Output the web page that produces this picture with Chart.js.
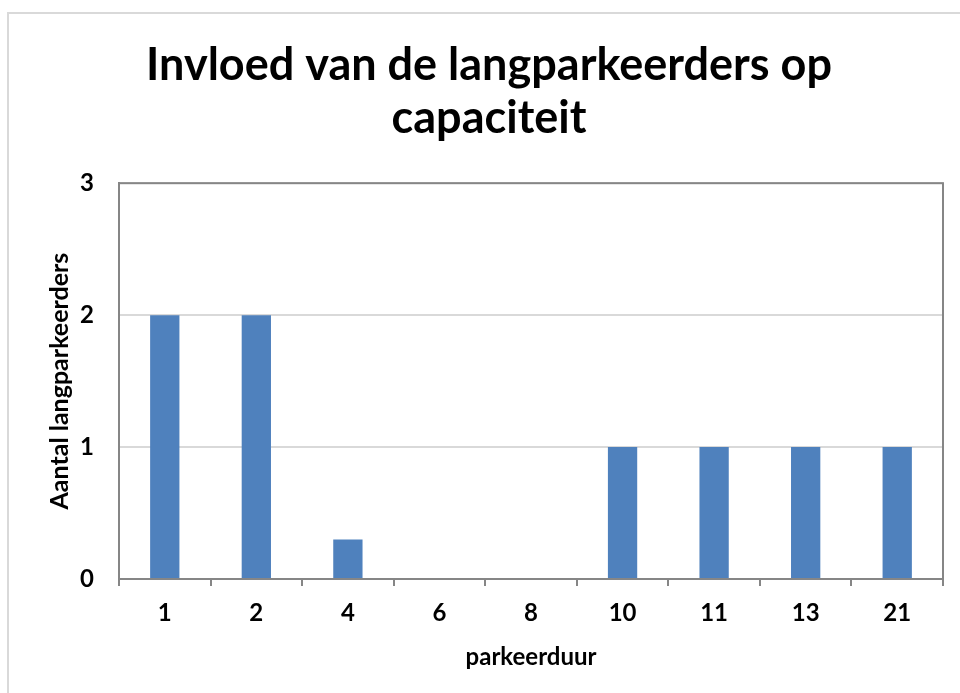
<!DOCTYPE html>
<html>
<head>
<meta charset="utf-8">
<script src="https://cdn.jsdelivr.net/npm/chart.js@4"></script>
<style>
	html, body { margin: 0; padding: 0; background: #fff; overflow: hidden; }
	#frame { position: absolute; left: 7px; top: 12px; width: 1000px; height: 800px; border: 2px solid #d9d9d9; }
	#wrap { position: absolute; left: 0; top: 0; width: 960px; height: 693px; }
</style>
</head>
<body>
<div id="frame"></div>
<div id="wrap"><canvas id="duur-chart" width="960" height="693"></canvas></div>
<script>
// parkeerduur (uren) en aantal langparkeerders
const categories = ['1', '2', '4', '6', '8', '10', '11', '13', '21'];
const aantallen = [2, 2, 0.3, 0, 0, 1, 1, 1, 1];
const yTicks = [0, 1, 2, 3];

const FONT = 'Lato, "Open Sans", sans-serif';

// grey border around the plot area (top and right sides included)
const plotBorder = {
	id: 'plotBorder',
	afterDatasetsDraw(chart) {
		const a = chart.chartArea;
		const c = chart.ctx;
		c.save();
		c.strokeStyle = '#868686';
		c.lineWidth = 2;
		c.strokeRect(a.left, a.top, a.right - a.left, a.bottom - a.top);
		c.restore();
	}
};

document.addEventListener('DOMContentLoaded', function () {
	const ctx = document.getElementById('duur-chart');
	new Chart(ctx, {
		type: 'bar',
		data: {
			labels: categories,
			datasets: [{
				data: aantallen,
				backgroundColor: '#4f81bd',
				categoryPercentage: 1,
				barPercentage: 0.32
			}]
		},
		options: {
			responsive: false,
			animation: false,
			layout: { padding: { left: 35, right: 17, top: 0, bottom: 0 } },
			plugins: {
				legend: { display: false },
				tooltip: { enabled: false },
				title: {
					display: true,
					text: ['Invloed van de langparkeerders op', 'capaciteit'],
					color: '#000',
					font: { family: FONT, size: 45, weight: 'bold', lineHeight: 1.18 },
					padding: { top: 39, bottom: 38 }
				}
			},
			scales: {
				x: {
					grid: { offset: true, drawOnChartArea: false, drawTicks: true, tickLength: 7, color: '#868686', lineWidth: 2 },
					border: { color: '#868686', width: 2 },
					ticks: { color: '#000', padding: 13, maxRotation: 0, font: { family: FONT, size: 24, weight: 'bold' } },
					title: {
						display: true,
						text: 'parkeerduur',
						color: '#000',
						font: { family: FONT, size: 24, weight: 'bold' },
						padding: { top: 10, bottom: 21 }
					},
					afterFit: function (s) { s.height = 114; }
				},
				y: {
					min: 0,
					max: 3,
					afterBuildTicks: function (s) { s.ticks = yTicks.map(v => ({ value: v })); },
					grid: { color: '#d9d9d9', lineWidth: 2, drawTicks: false },
					border: { color: '#868686', width: 2 },
					ticks: { color: '#000', padding: 25, font: { family: FONT, size: 24, weight: 'bold' } },
					title: {
						display: true,
						text: 'Aantal langparkeerders',
						color: '#000',
						font: { family: FONT, size: 25, weight: 'bold' },
						padding: { top: 10, bottom: 0 }
					},
					afterFit: function (s) { s.width = 84; }
				}
			}
		},
		plugins: [plotBorder]
	});
});
</script>
</body>
</html>
